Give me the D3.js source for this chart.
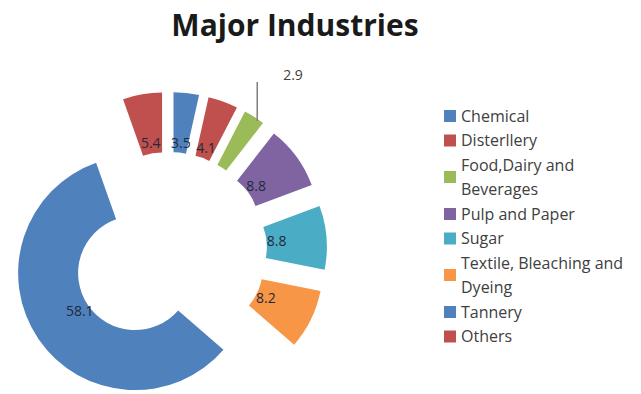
<!DOCTYPE html>
<html>
<head>
<meta charset="utf-8">
<script src="https://cdn.jsdelivr.net/npm/d3@7/dist/d3.min.js"></script>
<style>
  body { margin: 0; background: #fff; }
  svg { display: block; font-family: "Open Sans", sans-serif; }
</style>
</head>
<body>
<svg width="641" height="394"></svg>
<script>
// chart data
var categories = ["Chemical", "Disterllery", "Food,Dairy and Beverages", "Pulp and Paper",
                  "Sugar", "Textile, Bleaching and Dyeing", "Tannery", "Others"];
var values = [3.5, 4.1, 2.9, 8.8, 8.8, 8.2, 58.1, 5.4];
var valueLabels = ["3.5", "4.1", "2.9", "8.8", "8.8", "8.2", "58.1", "5.4"];
var colors = ["#4F81BD", "#C0504D", "#9BBB59", "#8064A2", "#4BACC6", "#F79646", "#4F81BD", "#C0504D"];

var svg = d3.select("svg"),
    cx = 169, cy = 250,
    inner = 57, outer = 117, explode = 41, labelR = 108;

svg.append("text")
    .attr("x", 295).attr("y", 36)
    .attr("text-anchor", "middle")
    .attr("font-size", 30).attr("font-weight", "bold")
    .attr("fill", "#1a1a1a")
    .text("Major Industries");

var pie = d3.pie().sort(null).value(function(d) { return d; });
var arc = d3.arc().innerRadius(inner).outerRadius(outer);
var arcs = pie(values);

function mid(d) { return (d.startAngle + d.endAngle) / 2; }

var g = svg.append("g").attr("transform", "translate(" + cx + "," + cy + ")");

g.selectAll("path")
  .data(arcs)
  .enter().append("path")
    .attr("d", arc)
    .attr("fill", function(d, i) { return colors[i]; })
    .attr("transform", function(d) {
      var a = mid(d);
      return "translate(" + (explode * Math.sin(a)) + "," + (-explode * Math.cos(a)) + ")";
    });

// labels; the small one (index 2) sits outside with a leader line
g.selectAll("text.lbl")
  .data(arcs.filter(function(d) { return d.index != 2; }))
  .enter().append("text")
    .attr("class", "lbl")
    .attr("x", function(d) { return labelR * Math.sin(mid(d)); })
    .attr("y", function(d) { return -labelR * Math.cos(mid(d)); })
    .attr("dy", "0.35em")
    .attr("text-anchor", "middle")
    .attr("font-size", 14)
    .attr("fill", "#1f2a3a")
    .text(function(d) { return valueLabels[d.index]; });

var food = arcs[2],
    fx = (outer + explode) * Math.sin(mid(food)),
    fy = -(outer + explode) * Math.cos(mid(food));
g.append("line")
    .attr("x1", fx + 3).attr("y1", fy + 4)
    .attr("x2", fx + 3).attr("y2", 82 - cy)
    .attr("stroke", "#7f7f7f").attr("stroke-width", 1.5);
g.append("text")
    .attr("x", 293 - cx).attr("y", 75 - cy)
    .attr("dy", "0.35em")
    .attr("text-anchor", "middle")
    .attr("font-size", 14)
    .attr("fill", "#404040")
    .text(valueLabels[2]);

// legend
var legendLines = categories.map(function(c) {
  if (c == "Food,Dairy and Beverages") return ["Food,Dairy and", "Beverages"];
  if (c == "Textile, Bleaching and Dyeing") return ["Textile, Bleaching and", "Dyeing"];
  return [c];
});

var ly = 116;
var legend = svg.append("g");
legendLines.forEach(function(lines, i) {
  var h = lines.length == 1 ? 24.5 : 49;
  var centre = lines.length == 1 ? ly : ly + 12;
  legend.append("rect")
      .attr("x", 444).attr("y", centre - 6)
      .attr("width", 12).attr("height", 12)
      .attr("fill", colors[i]);
  lines.forEach(function(t, j) {
    legend.append("text")
        .attr("x", 461).attr("y", ly + j * 24)
        .attr("dy", "0.35em")
        .attr("font-size", 16)
        .attr("fill", "#404040")
        .text(t);
  });
  ly += h;
});
</script>
</body>
</html>
